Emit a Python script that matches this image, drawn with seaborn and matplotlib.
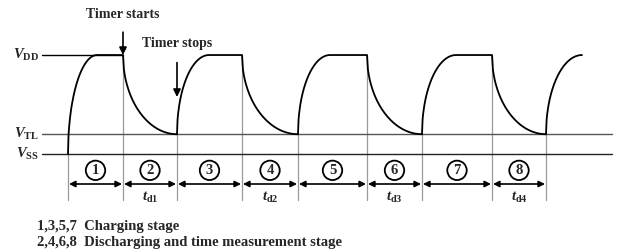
import numpy as np
import pandas as pd
import seaborn as sns
import matplotlib
matplotlib.use('Agg')
import matplotlib.pyplot as plt

# voltage levels (normalised to VDD)
V_SS = 0.0
V_TL = 0.2
V_DD = 1.0

# stage boundaries along the time axis (charge start, discharge start, ...)
boundaries = [68, 123, 177, 242, 298, 367, 422, 492, 546]
# time at which each charging curve reaches VDD
rise_ends = [97, 209, 330, 456, 582]
stage_labels = ['1', '2', '3', '4', '5', '6', '7', '8']
td_labels = ['d1', 'd2', 'd3', 'd4']

sns.set_theme(style='white')
plt.rcParams['font.family'] = ['Liberation Serif', 'DejaVu Serif']
plt.rcParams['font.weight'] = 'bold'
plt.rcParams['mathtext.fontset'] = 'custom'
plt.rcParams['mathtext.rm'] = 'Liberation Serif:bold'
plt.rcParams['mathtext.bf'] = 'Liberation Serif:bold'
plt.rcParams['mathtext.it'] = 'Liberation Serif:italic:bold'


def quarter(t0, t1, v0, v1, n=60):
    # quarter-ellipse joining (t0, v0) and (t1, v1), vertical at t0
    s = np.linspace(0, 1, n)
    frac = np.sqrt(1 - (1 - s) ** 2)
    return t0 + s * (t1 - t0), v0 + frac * (v1 - v0)


# build the waveform
ts, vs = [], []
for i, r_end in enumerate(rise_ends):
    c_start = boundaries[2 * i]
    v_from = V_SS if i == 0 else V_TL
    t, v = quarter(c_start, r_end, v_from, V_DD)
    ts += list(t)
    vs += list(v)
    if 2 * i + 1 < len(boundaries):
        d_start = boundaries[2 * i + 1]
        d_end = boundaries[2 * i + 2]
        # discharge: steep start, flattening towards VTL
        t, v = quarter(d_start, d_end, V_DD, V_TL)
        ts += [d_start] + list(t)
        vs += [V_DD] + list(v)
wave = pd.DataFrame({'t': ts, 'v': vs})

fig = plt.figure(figsize=(6.22, 2.52), dpi=100)
ax = fig.add_axes([0, 0, 1, 1])
ax.set_xlim(0, 622)
ax.set_ylim(-0.99, 1.556)
ax.axis('off')

y_bottom = -0.465
y_arrow = -0.303
y_circle = -0.165
y_td = -0.44

# reference levels
ax.plot([42, 123], [V_DD, V_DD], color='black', lw=1.0)
ax.plot([42, 612], [V_TL, V_TL], color='#555555', lw=1.0)
ax.plot([42, 612], [V_SS, V_SS], color='#222222', lw=1.0)

# gray stage separators
for k, b in enumerate(boundaries):
    if k == 0:
        top = V_SS
    elif k % 2 == 1:
        top = V_DD
    else:
        top = V_TL
    ax.plot([b, b], [top, y_bottom], color='#9a9a9a', lw=0.9, zorder=1)

sns.lineplot(data=wave, x='t', y='v', sort=False, estimator=None,
             color='black', lw=1.3, ax=ax, zorder=3)

# level labels
for txt, lvl in [(r'$V_{\mathbf{DD}}$', V_DD), (r'$V_{\mathbf{TL}}$', V_TL),
                 (r'$V_{\mathbf{SS}}$', V_SS)]:
    ax.text(39, lvl, txt, ha='right', va='center', fontsize=10.5)

# stage arrows, numbers, time labels
for k, lab in enumerate(stage_labels):
    a = boundaries[k]
    b = boundaries[k + 1]
    ax.annotate('', xy=(b - 1, y_arrow), xytext=(a + 1, y_arrow),
                arrowprops=dict(arrowstyle='<|-|>', mutation_scale=9, lw=1.2,
                                color='black', shrinkA=0, shrinkB=0))
    ax.text((a + b) / 2, y_circle, lab, ha='center', va='center', fontsize=10.5,
            fontweight='bold',
            bbox=dict(boxstyle='circle,pad=0.22', fc='white', ec='black', lw=1.3))
for j, td in enumerate(td_labels):
    a = boundaries[2 * j + 1]
    b = boundaries[2 * j + 2]
    ax.text((a + b) / 2, y_td, r'$t_{\mathbf{%s}}$' % td, ha='center',
            va='center', fontsize=10.5)

# timer annotations
ax.annotate('Timer starts', xy=(123, V_DD), xytext=(123, 1.414),
            ha='center', va='center', fontsize=10, fontweight='bold',
            arrowprops=dict(arrowstyle='-|>', mutation_scale=11, lw=1.2,
                            color='black', shrinkA=6, shrinkB=0))
ax.annotate('Timer stops', xy=(177, 0.576), xytext=(177, 1.121),
            ha='center', va='center', fontsize=10, fontweight='bold',
            arrowprops=dict(arrowstyle='-|>', mutation_scale=11, lw=1.2,
                            color='black', shrinkA=7, shrinkB=0))

ax.text(37, -0.737, '1,3,5,7  Charging stage', ha='left', va='center',
        fontsize=10.5, fontweight='bold')
ax.text(37, -0.899, '2,4,6,8  Discharging and time measurement stage',
        ha='left', va='center', fontsize=10.5, fontweight='bold')

fig.savefig('out.png', dpi=100, facecolor='white')
